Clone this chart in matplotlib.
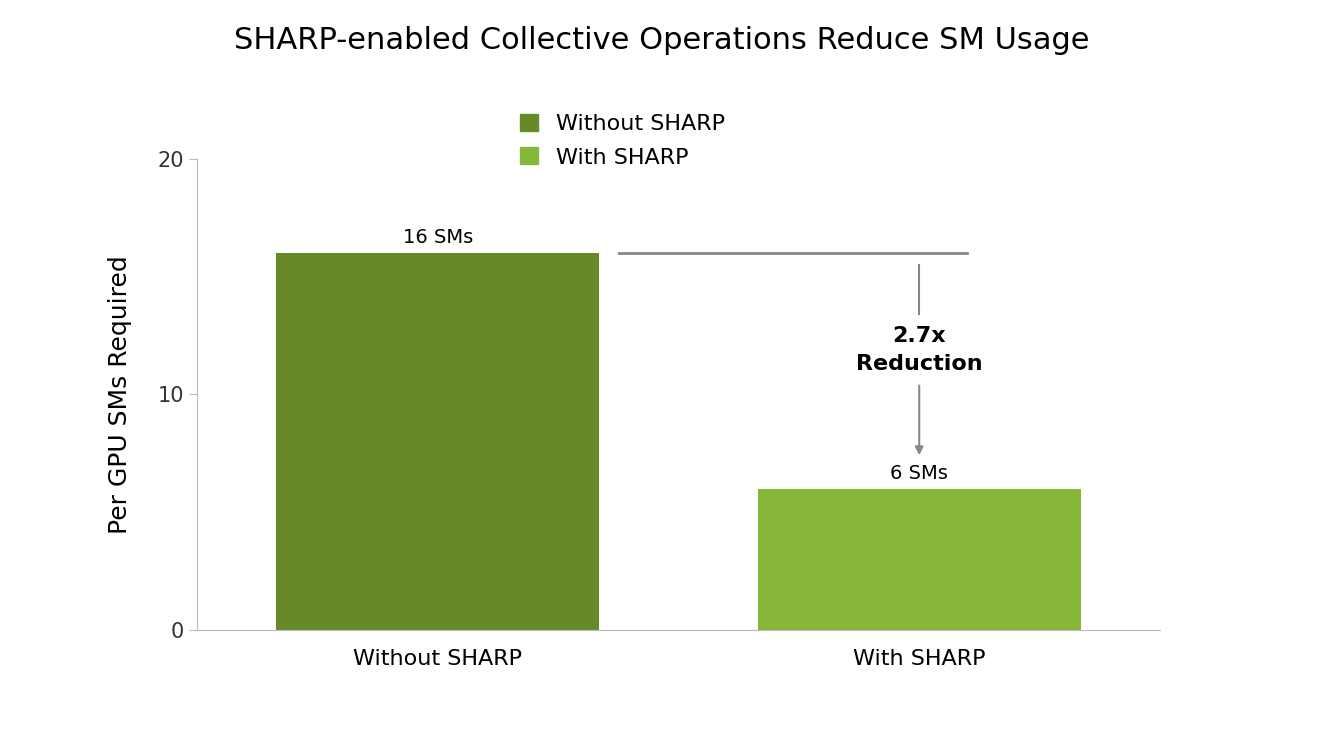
import matplotlib.pyplot as plt
from matplotlib.patches import Patch

plt.rcParams["font.family"] = "DejaVu Sans"

categories = ["Without SHARP", "With SHARP"]
sms_required = [16, 6]
bar_labels = ["16 SMs", "6 SMs"]
colors = ["#668a28", "#86b738"]
yticks = [0, 10, 20]

fig = plt.figure(figsize=(13.24, 7.52), dpi=100)
ax = fig.add_axes([0.1488, 0.1622, 0.7273, 0.6264])

x = range(len(categories))
ax.bar(x, sms_required, width=0.67, color=colors)
for xi, v, lab in zip(x, sms_required, bar_labels):
    ax.text(xi, v + 0.25, lab, ha="center", va="bottom", fontsize=14)

ax.set_xlim(-0.5, 1.5)
ax.set_ylim(0, 20)
ax.set_yticks(yticks)
ax.set_xticks(list(x))
ax.set_xticklabels(categories, fontsize=16)
ax.tick_params(axis="y", labelsize=15, length=6, color="#bbbbbb", colors="#333333")
ax.tick_params(axis="x", length=0, pad=14)
for s in ["top", "right"]:
    ax.spines[s].set_visible(False)
for s in ["left", "bottom"]:
    ax.spines[s].set_color("#bbbbbb")
ax.set_ylabel("Per GPU SMs Required", fontsize=18, labelpad=18)

# reduction annotation
ax.plot([0.376, 1.10], [sms_required[0], sms_required[0]], color="#888888", lw=2)
ax.plot([1.0, 1.0], [15.5, 13.4], color="#888888", lw=1.5)
ax.annotate("", xy=(1.0, 7.3), xytext=(1.0, 10.5),
            arrowprops=dict(arrowstyle="-|>", color="#888888", lw=1.5, mutation_scale=12))
ratio = sms_required[0] / sms_required[1]
ax.text(1.0, 11.9, f"{ratio:.1f}x\nReduction", ha="center", va="center",
        fontsize=16, fontweight="bold", linespacing=1.5)

handles = [Patch(color=c, label=l) for c, l in zip(colors, categories)]
fig.legend(handles=handles, loc="center", bbox_to_anchor=(0.47, 0.813), frameon=False,
           fontsize=16, handlelength=0.8, handleheight=0.8, labelspacing=0.6)

fig.suptitle("SHARP-enabled Collective Operations Reduce SM Usage", fontsize=22, y=0.965)

fig.savefig("out.png", dpi=100)
